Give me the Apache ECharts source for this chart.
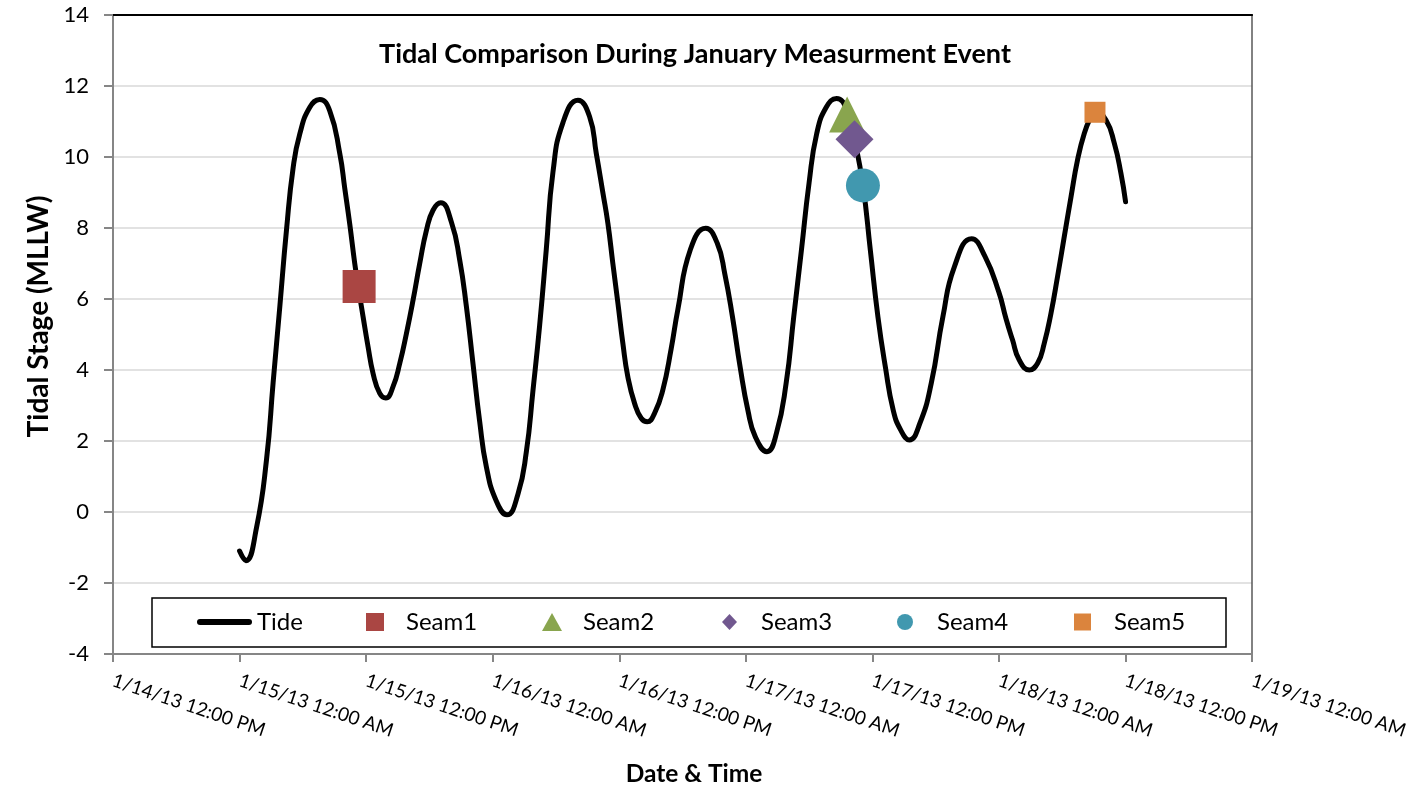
<!DOCTYPE html>
<html>
<head>
<meta charset="utf-8">
<title>Tidal Comparison</title>
<script src="https://cdn.jsdelivr.net/npm/echarts@6/dist/echarts.min.js"></script>
<style>
  html, body { margin: 0; padding: 0; background: #fff; }
  #chart { width: 1411px; height: 792px; }
</style>
</head>
<body>
<div id="chart"></div>
<script>
// tide readings: hours after 1/15/13 12:00 AM, and stage (MLLW)
const tideStart = '2013-01-15T00:00:00Z';
const tideHours = [
    0, 0.6, 1.6, 2.56, 3.18, 3.82, 4.45, 5.08, 5.71, 6.66,
    7.6, 8.55, 9.5, 9.98, 10.45, 10.92, 11.24, 11.71, 12.18, 12.66,
    13.29, 13.86, 14.55, 15.19, 15.82, 16.45, 17.08, 17.72, 18.34, 19.07,
    20.08, 20.87, 21.5, 22.13, 22.76, 23.4, 24.35, 25.35, 26.39, 27.19,
    27.81, 28.45, 29.08, 29.71, 30.66, 32.08, 33.18, 33.82, 34.44, 34.92,
    35.39, 35.87, 36.34, 36.81, 37.45, 38.08, 38.65, 39.34, 40.13, 40.92,
    41.55, 42.75, 44.2, 45.29, 46.01, 46.73, 47.46, 48.19, 48.91, 50.0,
    50.9, 51.82, 52.54, 53.27, 53.99, 54.72, 55.62, 56.6, 57.62, 58.3,
    59.1, 59.8, 60.52, 61.23, 61.97, 62.7, 63.5, 64.5, 65.58, 66.68,
    67.76, 69.4, 70.67, 71.98, 72.66, 73.28, 73.92, 74.87, 75.66, 76.29,
    76.93, 77.55, 78.19, 78.83, 79.45, 80.09, 80.72, 81.1, 82.14, 82.93,
    83.56, 84.0
];
const tideValues = [
    -1.1, -1.37, -0.45, 1.49, 3.64, 5.8, 7.95, 9.7, 10.65, 11.4,
    11.62, 11.3, 10.1, 9.1, 8.1, 7.0, 6.37, 5.5, 4.66, 3.9,
    3.34, 3.21, 3.53, 4.19, 5.03, 5.97, 7.0, 7.94, 8.5, 8.71,
    8.17, 7.1, 5.8, 4.18, 2.56, 1.27, 0.3, -0.08, 0.5, 1.7,
    3.4, 5.26, 7.4, 9.57, 10.97, 11.6, 11.14, 10.1, 9.0, 8.13,
    7.0, 5.88, 4.75, 3.81, 3.06, 2.64, 2.54, 2.78, 3.44, 4.6,
    5.7, 7.4, 7.99, 7.57, 6.7, 5.5, 4.08, 2.87, 2.11, 1.7,
    2.22, 3.63, 5.5, 7.38, 9.26, 10.66, 11.4, 11.65, 11.3, 10.5,
    9.2, 7.38, 5.5, 4.08, 2.87, 2.3, 2.03, 2.5, 3.63, 5.5,
    6.9, 7.7, 7.2, 6.2, 5.45, 4.85, 4.28, 4.0, 4.19, 4.75,
    5.6, 6.63, 7.76, 8.88, 9.92, 10.67, 11.14, 11.3, 11.04, 10.39,
    9.54, 8.74
];

// seam measurements
const seamNames = ['Seam1', 'Seam2', 'Seam3', 'Seam4', 'Seam5'];
const seamTimes = ['2013-01-15T11:20:00Z', '2013-01-17T09:36:00Z', '2013-01-17T10:18:00Z',
    '2013-01-17T11:06:00Z', '2013-01-18T09:06:00Z'];
const seamValues = [6.35, 11.2, 10.5, 9.2, 11.26];

// axis range / ticks
const axisStart = '2013-01-14T12:00:00Z';
const axisEnd = '2013-01-19T00:00:00Z';
const yTicks = [-4, -2, 0, 2, 4, 6, 8, 10, 12, 14];

// styles
const font = 'Lato, "Open Sans", sans-serif';
const seamSymbols = ['rect', 'triangle', 'diamond', 'circle', 'rect'];
const seamSizes = [33, 36, 38, 34, 21];
const seamColors = ['#AA4643', '#89A54E', '#71588F', '#4198AF', '#DB843D'];
// legend: left, icon width, icon height, text padding
const legendLayout = [
    [197, 55, 6, 0],
    [366, 18, 18, 17],
    [542, 20, 18, 16],
    [722, 15, 16, 19],
    [897, 16, 16, 19],
    [1074, 17, 17, 18]
];
const lineIcon = 'path://M3,0 H52 A3,3 0 0 1 52,6 H3 A3,3 0 0 1 3,0 Z';

const HOUR = 3600 * 1000;
const base = Date.parse(axisStart);
// hours since axis start
function hrs(t) { return (Date.parse(t) - base) / HOUR; }
const tideOffset = hrs(tideStart);
const tideData = tideValues.map((v, i) => [tideOffset + tideHours[i], v]);

function fmtTime(v) {
    let d = new Date(base + v * HOUR);
    let h = d.getUTCHours();
    let ap = h < 12 ? 'AM' : 'PM';
    h = h % 12;
    if (h === 0) h = 12;
    let mm = String(d.getUTCMinutes()).padStart(2, '0');
    return (d.getUTCMonth() + 1) + '/' + d.getUTCDate() + '/' +
        String(d.getUTCFullYear()).slice(2) + ' ' + h + ':' + mm + ' ' + ap;
}

let myChart = echarts.init(document.getElementById('chart'));

let series = [{
    name: 'Tide',
    type: 'line',
    data: tideData,
    symbol: 'none',
    smooth: 0.5,
    lineStyle: { color: '#000', width: 5, cap: 'round', join: 'round' },
    itemStyle: { color: '#000' },
    z: 2
}];
seamNames.forEach((name, i) => {
    series.push({
        name: name,
        type: 'scatter',
        data: [[hrs(seamTimes[i]), seamValues[i]]],
        symbol: seamSymbols[i],
        symbolSize: seamSizes[i],
        itemStyle: { color: seamColors[i], opacity: 1 },
        z: 3 + i
    });
});

let legends = ['Tide'].concat(seamNames).map((name, i) => ({
    data: [i === 0 ? { name: name, icon: lineIcon } : name],
    left: legendLayout[i][0],
    top: 610,
    padding: 0,
    itemWidth: legendLayout[i][1],
    itemHeight: legendLayout[i][2],
    selectedMode: false,
    textStyle: {
        fontFamily: font, fontSize: 24, color: '#000',
        padding: [0, 0, 0, legendLayout[i][3]]
    }
}));

const xMax = hrs(axisEnd);

let option = {
    animation: false,
    backgroundColor: '#fff',
    title: {
        text: 'Tidal Comparison During January Measurment Event',
        left: 690,
        top: 36,
        textAlign: 'center',
        textStyle: { fontFamily: font, fontWeight: 'bold', fontSize: 27, color: '#000' }
    },
    grid: { left: 113, right: 158, top: 15, bottom: 138 },
    legend: legends,
    graphic: [{
        type: 'rect',
        z: 3,
        shape: { x: 152, y: 598, width: 1074, height: 49 },
        style: { fill: '#fff', stroke: '#000', lineWidth: 1.5 }
    }],
    xAxis: [{
        type: 'value',
        min: 0,
        max: xMax,
        interval: 12,
        name: 'Date & Time',
        nameLocation: 'middle',
        nameGap: 108,
        nameTextStyle: {
            fontFamily: font, fontWeight: 'bold', fontSize: 24.5, color: '#000',
            padding: [0, 0, 0, 23]
        },
        axisLine: { show: true, onZero: false, lineStyle: { color: '#868686', width: 2 } },
        axisTick: { show: true, length: 8, lineStyle: { color: '#868686', width: 2 } },
        axisLabel: {
            rotate: -18.5,
            margin: 26,
            fontFamily: font,
            fontSize: 19,
            color: '#000',
            formatter: fmtTime
        },
        splitLine: { show: false }
    }, {
        // top border of plot area
        type: 'value',
        position: 'top',
        min: 0,
        max: xMax,
        interval: 12,
        axisLine: { show: true, onZero: false, lineStyle: { color: '#000', width: 2 } },
        axisTick: { show: false },
        axisLabel: { show: false },
        splitLine: { show: false }
    }],
    yAxis: [{
        type: 'value',
        min: yTicks[0],
        max: yTicks[yTicks.length - 1],
        interval: 2,
        name: 'Tidal Stage (MLLW)',
        nameLocation: 'middle',
        nameGap: 60,
        nameTextStyle: {
            fontFamily: font, fontWeight: 'bold', fontSize: 28, color: '#000',
            padding: [0, 0, 0, 36]
        },
        axisLine: { show: true, onZero: false, lineStyle: { color: '#868686', width: 2 } },
        axisTick: { show: true, length: 9, lineStyle: { color: '#868686', width: 2 } },
        axisLabel: { margin: 24, fontFamily: font, fontSize: 22, color: '#000' },
        splitLine: { show: true, lineStyle: { color: '#D9D9D9', width: 1.5 } }
    }, {
        // right border of plot area
        type: 'value',
        position: 'right',
        min: yTicks[0],
        max: yTicks[yTicks.length - 1],
        interval: 2,
        axisLine: { show: true, onZero: false, lineStyle: { color: '#595959', width: 1.5 } },
        axisTick: { show: false },
        axisLabel: { show: false },
        splitLine: { show: false }
    }],
    series: series
};

myChart.setOption(option);
</script>
</body>
</html>
